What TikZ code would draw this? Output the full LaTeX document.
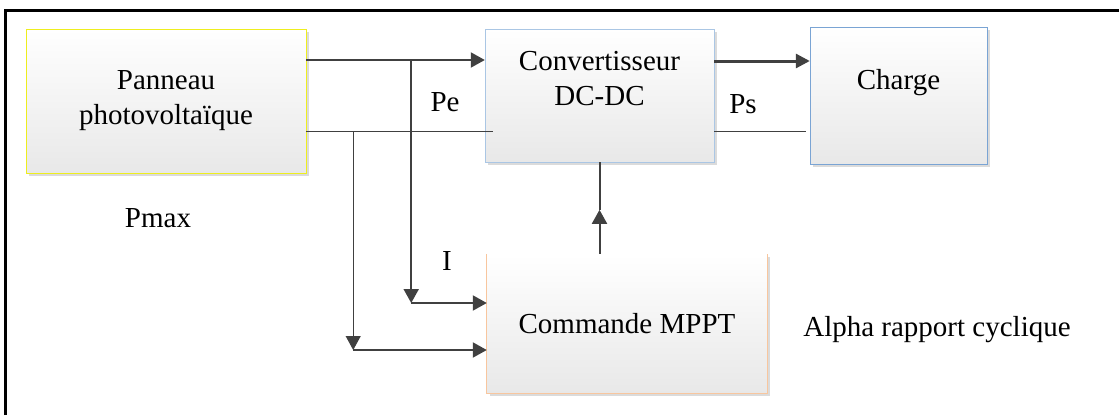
\documentclass[tikz,border=0pt]{standalone}
\usepackage{fontspec}
\setmainfont{Liberation Serif}
\usetikzlibrary{shapes,arrows,arrows.meta,shadows}
\definecolor{pvyellow}{RGB}{238,238,30}
\definecolor{convblue}{RGB}{170,198,228}
\definecolor{loadblue}{RGB}{122,164,212}
\definecolor{mpptorange}{RGB}{248,198,158}
\definecolor{wiregray}{RGB}{64,64,64}
\tikzstyle{block} = [rectangle, top color=white, bottom color=black!9,
    inner sep=0pt, text centered, align=center,
    drop shadow={shadow xshift=3pt, shadow yshift=-3pt, fill=black!14, opacity=1}]
\tikzstyle{line} = [draw=wiregray, line width=2pt, -{Triangle[length=14pt,width=15pt]}]
\tikzstyle{thinline} = [draw=wiregray, line width=1pt]
\tikzstyle{thickline} = [draw=wiregray, line width=3pt, -{Triangle[length=14pt,width=14pt]}]
\tikzstyle{tag} = [inner sep=0pt, align=center]
\begin{document}
\begin{tikzpicture}[x=1pt, y=1pt, font=\fontsize{29}{35}\selectfont]
      \useasboundingbox (0,0) rectangle (1119,-415);
      \draw [line width=3pt] (5,-415) -- (5,-10.5) -- (1119,-10.5);

      \node [block, draw=pvyellow, minimum width=280pt, minimum height=144pt] (panneau)
         at (166,-101) {Panneau\\photovolta\"ique};
      \node [block, draw=convblue, minimum width=229pt, minimum height=133pt,
         right of=panneau, node distance=433.5pt, yshift=5.5pt] (conv) {};
      \node [block, draw=loadblue, minimum width=177pt, minimum height=137pt,
         right of=conv, node distance=299pt] (charge) {};
      \node [block, minimum width=280pt, minimum height=139pt,
         below of=conv, node distance=228pt, xshift=27.5pt] (mppt) {Commande MPPT};
      \draw [mpptorange, line width=1pt] (mppt.north west) -- (mppt.south west)
         -- (mppt.south east) -- (mppt.north east);

      \node [tag] (convtext) at ([yshift=-50pt]conv.north) {Convertisseur\\DC-DC};
      \node [tag] (chargetext) at ([yshift=-55.5pt]charge.north) {Charge};
      \node [tag] (pmax) at (158,-218) {Pmax};
      \node [tag] (pe) at (445,-102) {Pe};
      \node [tag] (ps) at (743,-104) {Ps};
      \node [tag] (courant) at (447,-261) {I};
      \node [tag] (alpha) at (937,-330) {Alpha rapport cyclique};

      \coordinate (tapI) at ([xshift=105pt,yshift=41pt]panneau.east);
      \coordinate (tapV) at ([xshift=47pt,yshift=-30pt]panneau.east);
      \coordinate (inI) at ([yshift=20.5pt]mppt.west);
      \coordinate (inV) at ([yshift=-26.5pt]mppt.west);
      \coordinate (alphamid) at ([yshift=44pt]conv.south |- mppt.north);

      \path [line] ([yshift=41pt]panneau.east) -- ([yshift=41pt]panneau.east -| conv.west);
      \path [thinline] ([yshift=-30pt]panneau.east)
         -- ([xshift=8pt,yshift=-30pt]panneau.east -| conv.west);
      \path [line] (tapI) -- (tapI |- inI);
      \path [line] (tapI |- inI) -- (inI);
      \path [thinline, -{Triangle[length=14pt,width=15pt]}] (tapV) -- (tapV |- inV);
      \path [line] (tapV |- inV) -- (inV);
      \path [line] (conv.south |- mppt.north) -- (alphamid);
      \path [draw=wiregray, line width=2pt] (alphamid) -- (conv.south);
      \path [thickline] ([yshift=34.5pt]conv.east) -- ([yshift=34.5pt]conv.east -| charge.west);
      \path [thinline] ([yshift=-35.5pt]conv.east)
         -- ([xshift=-4pt,yshift=-35.5pt]conv.east -| charge.west);
   \end{tikzpicture}
\end{document}
